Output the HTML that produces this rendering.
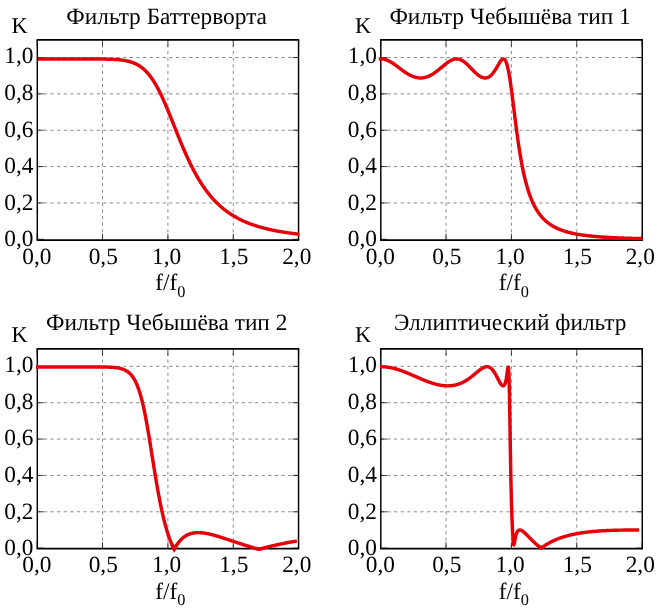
<!DOCTYPE html>
<html><head><meta charset="utf-8"><title>filters</title>
<style>
html,body{margin:0;padding:0;background:#fff;}
body{width:660px;height:611px;overflow:hidden;font-family:"Liberation Serif",serif;}
svg{display:block;will-change:transform;}
text{font-family:"Liberation Serif",serif;fill:#000;text-rendering:geometricPrecision;}
.t{font-size:23.35px;}
.ti{font-size:23.35px;}
.g{stroke:#000;stroke-width:0.73;stroke-dasharray:3.2 3.4;stroke-opacity:0.64;fill:none;}
.tk{stroke:#000;stroke-width:0.73;fill:none;}
.bh{stroke:#000;stroke-width:1.7;fill:none;}
.bv{stroke:#000;stroke-width:1.45;fill:none;}
.c{stroke:#e6000a;stroke-width:3.45;fill:none;stroke-linejoin:round;stroke-linecap:butt;}
.v{stroke-linejoin:miter;stroke-miterlimit:10;}
</style></head><body>
<svg width="660" height="611" viewBox="0 0 660 611">


<g>
<line class="g" stroke-dashoffset="-1.1" x1="102.53" y1="240.10" x2="102.53" y2="39.95"/>
<line class="g" stroke-dashoffset="-1.1" x1="167.90" y1="240.10" x2="167.90" y2="39.95"/>
<line class="g" stroke-dashoffset="-1.1" x1="233.28" y1="240.10" x2="233.28" y2="39.95"/>
<line class="g" x1="37.30" y1="202.94" x2="298.85" y2="202.94"/>
<line class="g" x1="37.30" y1="166.58" x2="298.85" y2="166.58"/>
<line class="g" x1="37.30" y1="130.22" x2="298.85" y2="130.22"/>
<line class="g" x1="37.30" y1="93.86" x2="298.85" y2="93.86"/>
<line class="g" x1="37.30" y1="57.50" x2="298.85" y2="57.50"/>
<line class="tk" x1="37.15" y1="240.10" x2="37.15" y2="233.60"/>
<line class="tk" x1="37.15" y1="39.95" x2="37.15" y2="46.45"/>
<line class="tk" x1="102.53" y1="240.10" x2="102.53" y2="233.60"/>
<line class="tk" x1="102.53" y1="39.95" x2="102.53" y2="46.45"/>
<line class="tk" x1="167.90" y1="240.10" x2="167.90" y2="233.60"/>
<line class="tk" x1="167.90" y1="39.95" x2="167.90" y2="46.45"/>
<line class="tk" x1="233.28" y1="240.10" x2="233.28" y2="233.60"/>
<line class="tk" x1="233.28" y1="39.95" x2="233.28" y2="46.45"/>
<line class="tk" x1="298.65" y1="240.10" x2="298.65" y2="233.60"/>
<line class="tk" x1="298.65" y1="39.95" x2="298.65" y2="46.45"/>
<line class="tk" x1="37.30" y1="239.30" x2="43.80" y2="239.30"/>
<line class="tk" x1="298.85" y1="239.30" x2="292.35" y2="239.30"/>
<line class="tk" x1="37.30" y1="202.94" x2="43.80" y2="202.94"/>
<line class="tk" x1="298.85" y1="202.94" x2="292.35" y2="202.94"/>
<line class="tk" x1="37.30" y1="166.58" x2="43.80" y2="166.58"/>
<line class="tk" x1="298.85" y1="166.58" x2="292.35" y2="166.58"/>
<line class="tk" x1="37.30" y1="130.22" x2="43.80" y2="130.22"/>
<line class="tk" x1="298.85" y1="130.22" x2="292.35" y2="130.22"/>
<line class="tk" x1="37.30" y1="93.86" x2="43.80" y2="93.86"/>
<line class="tk" x1="298.85" y1="93.86" x2="292.35" y2="93.86"/>
<line class="tk" x1="37.30" y1="57.50" x2="43.80" y2="57.50"/>
<line class="tk" x1="298.85" y1="57.50" x2="292.35" y2="57.50"/>
<path class="bh" d="M36.58 39.95H299.27M36.58 240.10H299.27"/>
<path class="bv" d="M37.30 39.95V240.10M298.55 39.95V240.10"/>
<polyline class="c" points="38.00,59.00 38.44,59.00 38.87,59.00 39.31,59.00 39.75,59.00 40.18,59.00 40.62,59.00 41.05,59.00 41.49,59.00 41.93,59.00 42.36,59.00 42.80,59.00 43.24,59.00 43.67,59.00 44.11,59.00 44.54,59.00 44.98,59.00 45.42,59.00 45.85,59.00 46.29,59.00 46.73,59.00 47.16,59.00 47.60,59.00 48.04,59.00 48.47,59.00 48.91,59.00 49.34,59.00 49.78,59.00 50.22,59.00 50.65,59.00 51.09,59.00 51.53,59.00 51.96,59.00 52.40,59.00 52.83,59.00 53.27,59.00 53.71,59.00 54.14,59.00 54.58,59.00 55.02,59.00 55.45,59.00 55.89,59.00 56.32,59.00 56.76,59.00 57.20,59.00 57.63,59.00 58.07,59.00 58.51,59.00 58.94,59.00 59.38,59.00 59.82,59.00 60.25,59.00 60.69,59.00 61.12,59.00 61.56,59.00 62.00,59.00 62.43,59.00 62.87,59.00 63.31,59.00 63.74,59.00 64.18,59.00 64.61,59.00 65.05,59.00 65.49,59.00 65.92,59.00 66.36,59.00 66.80,59.00 67.23,59.00 67.67,59.00 68.11,59.00 68.54,59.00 68.98,59.00 69.41,59.00 69.85,59.00 70.29,59.00 70.72,59.00 71.16,59.00 71.60,59.00 72.03,59.00 72.47,59.00 72.90,59.00 73.34,59.00 73.78,59.00 74.21,59.00 74.65,59.00 75.09,59.00 75.52,59.00 75.96,59.00 76.40,59.00 76.83,59.00 77.27,59.00 77.70,59.00 78.14,59.00 78.58,59.00 79.01,59.00 79.45,59.00 79.89,59.00 80.32,59.00 80.76,59.00 81.19,59.00 81.63,59.00 82.07,59.00 82.50,59.00 82.94,59.00 83.38,59.00 83.81,59.00 84.25,59.00 84.69,59.00 85.12,59.00 85.56,59.00 85.99,59.00 86.43,59.00 86.87,59.01 87.30,59.01 87.74,59.01 88.18,59.01 88.61,59.01 89.05,59.01 89.48,59.01 89.92,59.01 90.36,59.01 90.79,59.01 91.23,59.01 91.67,59.01 92.10,59.01 92.54,59.02 92.97,59.02 93.41,59.02 93.85,59.02 94.28,59.02 94.72,59.02 95.16,59.03 95.59,59.03 96.03,59.03 96.47,59.03 96.90,59.03 97.34,59.04 97.77,59.04 98.21,59.04 98.65,59.04 99.08,59.05 99.52,59.05 99.96,59.06 100.39,59.06 100.83,59.06 101.26,59.07 101.70,59.07 102.14,59.08 102.57,59.08 103.01,59.09 103.45,59.10 103.88,59.10 104.32,59.11 104.76,59.12 105.19,59.12 105.63,59.13 106.06,59.14 106.50,59.15 106.94,59.16 107.37,59.17 107.81,59.18 108.25,59.19 108.68,59.20 109.12,59.22 109.55,59.23 109.99,59.24 110.43,59.26 110.86,59.28 111.30,59.29 111.74,59.31 112.17,59.33 112.61,59.35 113.05,59.37 113.48,59.39 113.92,59.41 114.35,59.44 114.79,59.46 115.23,59.49 115.66,59.52 116.10,59.55 116.54,59.58 116.97,59.61 117.41,59.64 117.84,59.68 118.28,59.72 118.72,59.76 119.15,59.80 119.59,59.84 120.03,59.89 120.46,59.93 120.90,59.98 121.34,60.04 121.77,60.09 122.21,60.15 122.64,60.21 123.08,60.27 123.52,60.34 123.95,60.40 124.39,60.48 124.83,60.55 125.26,60.63 125.70,60.71 126.13,60.79 126.57,60.88 127.01,60.98 127.44,61.07 127.88,61.17 128.32,61.28 128.75,61.39 129.19,61.50 129.63,61.62 130.06,61.74 130.50,61.87 130.93,62.01 131.37,62.15 131.81,62.29 132.24,62.44 132.68,62.60 133.12,62.76 133.55,62.93 133.99,63.11 134.42,63.29 134.86,63.48 135.30,63.67 135.73,63.88 136.17,64.09 136.61,64.31 137.04,64.54 137.48,64.77 137.91,65.01 138.35,65.27 138.79,65.53 139.22,65.80 139.66,66.08 140.10,66.37 140.53,66.67 140.97,66.97 141.41,67.29 141.84,67.62 142.28,67.96 142.71,68.31 143.15,68.67 143.59,69.05 144.02,69.43 144.46,69.83 144.90,70.24 145.33,70.66 145.77,71.09 146.20,71.53 146.64,71.99 147.08,72.46 147.51,72.94 147.95,73.44 148.39,73.95 148.82,74.47 149.26,75.01 149.70,75.56 150.13,76.13 150.57,76.70 151.00,77.30 151.44,77.90 151.88,78.52 152.31,79.16 152.75,79.81 153.19,80.47 153.62,81.15 154.06,81.84 154.49,82.54 154.93,83.26 155.37,84.00 155.80,84.74 156.24,85.51 156.68,86.28 157.11,87.07 157.55,87.88 157.99,88.69 158.42,89.52 158.86,90.37 159.29,91.22 159.73,92.09 160.17,92.97 160.60,93.87 161.04,94.77 161.48,95.69 161.91,96.62 162.35,97.56 162.78,98.51 163.22,99.47 163.66,100.45 164.09,101.43 164.53,102.42 164.97,103.42 165.40,104.43 165.84,105.45 166.28,106.47 166.71,107.50 167.15,108.54 167.58,109.59 168.02,110.64 168.46,111.70 168.89,112.77 169.33,113.83 169.77,114.91 170.20,115.99 170.64,117.07 171.07,118.15 171.51,119.24 171.95,120.33 172.38,121.42 172.82,122.51 173.26,123.61 173.69,124.70 174.13,125.80 174.57,126.89 175.00,127.99 175.44,129.08 175.87,130.18 176.31,131.27 176.75,132.36 177.18,133.44 177.62,134.53 178.06,135.61 178.49,136.68 178.93,137.76 179.36,138.83 179.80,139.89 180.24,140.95 180.67,142.01 181.11,143.06 181.55,144.11 181.98,145.15 182.42,146.18 182.85,147.21 183.29,148.23 183.73,149.24 184.16,150.25 184.60,151.25 185.04,152.25 185.47,153.23 185.91,154.21 186.35,155.18 186.78,156.15 187.22,157.11 187.65,158.05 188.09,158.99 188.53,159.93 188.96,160.85 189.40,161.77 189.84,162.67 190.27,163.57 190.71,164.46 191.14,165.34 191.58,166.22 192.02,167.08 192.45,167.94 192.89,168.79 193.33,169.62 193.76,170.45 194.20,171.28 194.64,172.09 195.07,172.89 195.51,173.69 195.94,174.47 196.38,175.25 196.82,176.02 197.25,176.78 197.69,177.53 198.13,178.28 198.56,179.01 199.00,179.74 199.43,180.45 199.87,181.16 200.31,181.86 200.74,182.56 201.18,183.24 201.62,183.92 202.05,184.59 202.49,185.25 202.93,185.90 203.36,186.54 203.80,187.18 204.23,187.81 204.67,188.43 205.11,189.04 205.54,189.64 205.98,190.24 206.42,190.83 206.85,191.41 207.29,191.99 207.72,192.56 208.16,193.12 208.60,193.67 209.03,194.22 209.47,194.76 209.91,195.29 210.34,195.82 210.78,196.34 211.22,196.85 211.65,197.36 212.09,197.86 212.52,198.35 212.96,198.84 213.40,199.32 213.83,199.79 214.27,200.26 214.71,200.72 215.14,201.18 215.58,201.63 216.01,202.07 216.45,202.51 216.89,202.94 217.32,203.37 217.76,203.79 218.20,204.21 218.63,204.62 219.07,205.03 219.51,205.43 219.94,205.82 220.38,206.21 220.81,206.60 221.25,206.98 221.69,207.35 222.12,207.72 222.56,208.09 223.00,208.45 223.43,208.80 223.87,209.16 224.30,209.50 224.74,209.84 225.18,210.18 225.61,210.52 226.05,210.85 226.49,211.17 226.92,211.49 227.36,211.81 227.79,212.12 228.23,212.43 228.67,212.73 229.10,213.04 229.54,213.33 229.98,213.63 230.41,213.91 230.85,214.20 231.29,214.48 231.72,214.76 232.16,215.04 232.59,215.31 233.03,215.57 233.47,215.84 233.90,216.10 234.34,216.36 234.78,216.61 235.21,216.86 235.65,217.11 236.08,217.36 236.52,217.60 236.96,217.84 237.39,218.07 237.83,218.31 238.27,218.54 238.70,218.76 239.14,218.99 239.58,219.21 240.01,219.43 240.45,219.65 240.88,219.86 241.32,220.07 241.76,220.28 242.19,220.48 242.63,220.69 243.07,220.89 243.50,221.09 243.94,221.28 244.37,221.47 244.81,221.67 245.25,221.85 245.68,222.04 246.12,222.22 246.56,222.41 246.99,222.59 247.43,222.76 247.87,222.94 248.30,223.11 248.74,223.28 249.17,223.45 249.61,223.62 250.05,223.78 250.48,223.95 250.92,224.11 251.36,224.27 251.79,224.42 252.23,224.58 252.66,224.73 253.10,224.88 253.54,225.03 253.97,225.18 254.41,225.33 254.85,225.47 255.28,225.62 255.72,225.76 256.16,225.90 256.59,226.03 257.03,226.17 257.46,226.31 257.90,226.44 258.34,226.57 258.77,226.70 259.21,226.83 259.65,226.96 260.08,227.08 260.52,227.21 260.95,227.33 261.39,227.45 261.83,227.57 262.26,227.69 262.70,227.81 263.14,227.92 263.57,228.04 264.01,228.15 264.45,228.26 264.88,228.37 265.32,228.48 265.75,228.59 266.19,228.70 266.63,228.80 267.06,228.91 267.50,229.01 267.94,229.11 268.37,229.21 268.81,229.31 269.24,229.41 269.68,229.51 270.12,229.61 270.55,229.70 270.99,229.80 271.43,229.89 271.86,229.98 272.30,230.07 272.73,230.17 273.17,230.25 273.61,230.34 274.04,230.43 274.48,230.52 274.92,230.60 275.35,230.69 275.79,230.77 276.23,230.85 276.66,230.94 277.10,231.02 277.53,231.10 277.97,231.18 278.41,231.25 278.84,231.33 279.28,231.41 279.72,231.49 280.15,231.56 280.59,231.63 281.02,231.71 281.46,231.78 281.90,231.85 282.33,231.92 282.77,231.99 283.21,232.06 283.64,232.13 284.08,232.20 284.52,232.27 284.95,232.34 285.39,232.40 285.82,232.47 286.26,232.53 286.70,232.60 287.13,232.66 287.57,232.72 288.01,232.79 288.44,232.85 288.88,232.91 289.31,232.97 289.75,233.03 290.19,233.09 290.62,233.14 291.06,233.20 291.50,233.26 291.93,233.32 292.37,233.37 292.81,233.43 293.24,233.48 293.68,233.54 294.11,233.59 294.55,233.64 294.99,233.70 295.42,233.75 295.86,233.80 296.30,233.85 296.73,233.90 297.17,233.95 297.60,234.00 298.04,234.05 298.48,234.10 298.91,234.15 299.35,234.20"/>
<text class="t" x="22.25" y="264.00" transform="rotate(0.02 22.25 264.00)">0,0</text>
<text class="t" x="88.65" y="264.00" transform="rotate(0.02 88.65 264.00)">0,5</text>
<text class="t" x="152.00" y="264.00" transform="rotate(0.02 152.00 264.00)">1,0</text>
<text class="t" x="219.20" y="264.00" transform="rotate(0.02 219.20 264.00)">1,5</text>
<text class="t" x="282.15" y="264.00" transform="rotate(0.02 282.15 264.00)">2,0</text>
<text class="t" x="33.50" y="246.30" text-anchor="end" transform="rotate(0.02 33.50 246.30)">0,0</text>
<text class="t" x="33.50" y="209.74" text-anchor="end" transform="rotate(0.02 33.50 209.74)">0,2</text>
<text class="t" x="33.50" y="173.18" text-anchor="end" transform="rotate(0.02 33.50 173.18)">0,4</text>
<text class="t" x="33.50" y="136.62" text-anchor="end" transform="rotate(0.02 33.50 136.62)">0,6</text>
<text class="t" x="33.50" y="100.06" text-anchor="end" transform="rotate(0.02 33.50 100.06)">0,8</text>
<text class="t" x="33.50" y="63.50" text-anchor="end" transform="rotate(0.02 33.50 63.50)">1,0</text>
<text class="t" x="155.30" y="289.80" transform="rotate(0.02 155.30 289.80)">f/f<tspan font-size="16.3" dy="6.75">0</tspan></text>
<text class="t" style="font-size:22.4px" x="11.40" y="33.35" transform="rotate(0.02 11.30 33.25)">K</text>
<text class="ti" x="66.30" y="23.80" transform="rotate(0.02 66.30 23.80)">Фильтр Баттерворта</text>
</g>
<g>
<line class="g" stroke-dashoffset="-1.1" x1="446.03" y1="240.10" x2="446.03" y2="39.95"/>
<line class="g" stroke-dashoffset="-1.1" x1="511.40" y1="240.10" x2="511.40" y2="39.95"/>
<line class="g" stroke-dashoffset="-1.1" x1="576.78" y1="240.10" x2="576.78" y2="39.95"/>
<line class="g" x1="380.80" y1="202.94" x2="642.35" y2="202.94"/>
<line class="g" x1="380.80" y1="166.58" x2="642.35" y2="166.58"/>
<line class="g" x1="380.80" y1="130.22" x2="642.35" y2="130.22"/>
<line class="g" x1="380.80" y1="93.86" x2="642.35" y2="93.86"/>
<line class="g" x1="380.80" y1="57.50" x2="642.35" y2="57.50"/>
<line class="tk" x1="380.65" y1="240.10" x2="380.65" y2="233.60"/>
<line class="tk" x1="380.65" y1="39.95" x2="380.65" y2="46.45"/>
<line class="tk" x1="446.03" y1="240.10" x2="446.03" y2="233.60"/>
<line class="tk" x1="446.03" y1="39.95" x2="446.03" y2="46.45"/>
<line class="tk" x1="511.40" y1="240.10" x2="511.40" y2="233.60"/>
<line class="tk" x1="511.40" y1="39.95" x2="511.40" y2="46.45"/>
<line class="tk" x1="576.78" y1="240.10" x2="576.78" y2="233.60"/>
<line class="tk" x1="576.78" y1="39.95" x2="576.78" y2="46.45"/>
<line class="tk" x1="642.15" y1="240.10" x2="642.15" y2="233.60"/>
<line class="tk" x1="642.15" y1="39.95" x2="642.15" y2="46.45"/>
<line class="tk" x1="380.80" y1="239.30" x2="387.30" y2="239.30"/>
<line class="tk" x1="642.35" y1="239.30" x2="635.85" y2="239.30"/>
<line class="tk" x1="380.80" y1="202.94" x2="387.30" y2="202.94"/>
<line class="tk" x1="642.35" y1="202.94" x2="635.85" y2="202.94"/>
<line class="tk" x1="380.80" y1="166.58" x2="387.30" y2="166.58"/>
<line class="tk" x1="642.35" y1="166.58" x2="635.85" y2="166.58"/>
<line class="tk" x1="380.80" y1="130.22" x2="387.30" y2="130.22"/>
<line class="tk" x1="642.35" y1="130.22" x2="635.85" y2="130.22"/>
<line class="tk" x1="380.80" y1="93.86" x2="387.30" y2="93.86"/>
<line class="tk" x1="642.35" y1="93.86" x2="635.85" y2="93.86"/>
<line class="tk" x1="380.80" y1="57.50" x2="387.30" y2="57.50"/>
<line class="tk" x1="642.35" y1="57.50" x2="635.85" y2="57.50"/>
<path class="bh" d="M380.08 39.95H642.97M380.08 240.10H642.97"/>
<path class="bv" d="M380.80 39.95V240.10M642.25 39.95V240.10"/>
<polyline class="c" points="378.80,59.04 379.24,58.98 379.68,58.94 380.12,58.92 380.56,58.90 381.00,58.90 381.44,58.91 381.88,58.94 382.32,58.98 382.76,59.03 383.20,59.10 383.64,59.17 384.08,59.26 384.52,59.37 384.96,59.48 385.41,59.61 385.85,59.75 386.29,59.90 386.73,60.06 387.17,60.23 387.61,60.42 388.05,60.61 388.49,60.82 388.93,61.03 389.37,61.26 389.81,61.49 390.25,61.74 390.69,61.99 391.13,62.24 391.57,62.51 392.01,62.79 392.45,63.07 392.89,63.35 393.33,63.65 393.77,63.94 394.21,64.25 394.65,64.56 395.09,64.87 395.53,65.18 395.97,65.50 396.41,65.83 396.85,66.15 397.29,66.48 397.73,66.81 398.17,67.14 398.61,67.47 399.05,67.80 399.50,68.13 399.94,68.46 400.38,68.79 400.82,69.12 401.26,69.44 401.70,69.77 402.14,70.09 402.58,70.41 403.02,70.73 403.46,71.04 403.90,71.35 404.34,71.66 404.78,71.96 405.22,72.25 405.66,72.55 406.10,72.83 406.54,73.11 406.98,73.39 407.42,73.66 407.86,73.92 408.30,74.18 408.74,74.43 409.18,74.67 409.62,74.91 410.06,75.14 410.50,75.36 410.94,75.57 411.38,75.78 411.82,75.97 412.26,76.16 412.70,76.34 413.15,76.51 413.59,76.67 414.03,76.83 414.47,76.97 414.91,77.11 415.35,77.23 415.79,77.35 416.23,77.45 416.67,77.55 417.11,77.64 417.55,77.71 417.99,77.78 418.43,77.84 418.87,77.88 419.31,77.92 419.75,77.95 420.19,77.96 420.63,77.97 421.07,77.96 421.51,77.95 421.95,77.92 422.39,77.88 422.83,77.84 423.27,77.78 423.71,77.71 424.15,77.63 424.59,77.54 425.03,77.44 425.47,77.33 425.91,77.21 426.35,77.08 426.79,76.94 427.24,76.79 427.68,76.63 428.12,76.46 428.56,76.28 429.00,76.09 429.44,75.89 429.88,75.68 430.32,75.46 430.76,75.23 431.20,74.99 431.64,74.74 432.08,74.48 432.52,74.22 432.96,73.95 433.40,73.66 433.84,73.38 434.28,73.08 434.72,72.77 435.16,72.46 435.60,72.14 436.04,71.82 436.48,71.49 436.92,71.15 437.36,70.81 437.80,70.46 438.24,70.11 438.68,69.76 439.12,69.40 439.56,69.03 440.00,68.67 440.44,68.30 440.89,67.93 441.33,67.56 441.77,67.19 442.21,66.82 442.65,66.45 443.09,66.08 443.53,65.71 443.97,65.34 444.41,64.98 444.85,64.62 445.29,64.27 445.73,63.92 446.17,63.58 446.61,63.24 447.05,62.91 447.49,62.59 447.93,62.28 448.37,61.97 448.81,61.68 449.25,61.40 449.69,61.13 450.13,60.87 450.57,60.63 451.01,60.39 451.45,60.18 451.89,59.98 452.33,59.79 452.77,59.62 453.21,59.47 453.65,59.33 454.09,59.21 454.53,59.11 454.98,59.03 455.42,58.97 455.86,58.93 456.30,58.90 456.74,58.90 457.18,58.92 457.62,58.96 458.06,59.01 458.50,59.09 458.94,59.19 459.38,59.31 459.82,59.45 460.26,59.61 460.70,59.79 461.14,59.99 461.58,60.21 462.02,60.44 462.46,60.70 462.90,60.97 463.34,61.26 463.78,61.56 464.22,61.89 464.66,62.22 465.10,62.57 465.54,62.94 465.98,63.32 466.42,63.71 466.86,64.11 467.30,64.52 467.74,64.94 468.18,65.37 468.62,65.80 469.07,66.24 469.51,66.69 469.95,67.14 470.39,67.59 470.83,68.05 471.27,68.51 471.71,68.97 472.15,69.42 472.59,69.88 473.03,70.33 473.47,70.78 473.91,71.22 474.35,71.66 474.79,72.09 475.23,72.51 475.67,72.93 476.11,73.33 476.55,73.72 476.99,74.10 477.43,74.47 477.87,74.83 478.31,75.17 478.75,75.49 479.19,75.80 479.63,76.09 480.07,76.37 480.51,76.62 480.95,76.86 481.39,77.07 481.83,77.26 482.27,77.44 482.72,77.59 483.16,77.71 483.60,77.81 484.04,77.89 484.48,77.94 484.92,77.96 485.36,77.96 485.80,77.93 486.24,77.87 486.68,77.79 487.12,77.67 487.56,77.52 488.00,77.35 488.44,77.14 488.88,76.90 489.32,76.63 489.76,76.32 490.20,75.99 490.64,75.62 491.08,75.22 491.52,74.79 491.96,74.32 492.40,73.82 492.84,73.29 493.28,72.74 493.72,72.15 494.16,71.53 494.60,70.89 495.04,70.22 495.48,69.52 495.92,68.81 496.36,68.08 496.81,67.34 497.25,66.58 497.69,65.82 498.13,65.06 498.57,64.30 499.01,63.56 499.45,62.84 499.89,62.15 500.33,61.49 500.77,60.88 501.21,60.33 501.65,59.85 502.09,59.46 502.53,59.16 502.97,58.97 503.41,58.90 503.85,58.97 504.29,59.19 504.73,59.58 505.17,60.15 505.61,60.90 506.05,61.86 506.49,63.02 506.93,64.39 507.37,65.98 507.81,67.79 508.25,69.80 508.69,72.03 509.13,74.45 509.57,77.07 510.01,79.85 510.46,82.80 510.90,85.89 511.34,89.10 511.78,92.41 512.22,95.81 512.66,99.27 513.10,102.78 513.54,106.32 513.98,109.87 514.42,113.41 514.86,116.93 515.30,120.43 515.74,123.88 516.18,127.28 516.62,130.62 517.06,133.89 517.50,137.08 517.94,140.20 518.38,143.24 518.82,146.20 519.26,149.07 519.70,151.85 520.14,154.55 520.58,157.16 521.02,159.69 521.46,162.13 521.90,164.49 522.34,166.77 522.78,168.97 523.22,171.10 523.66,173.14 524.10,175.12 524.55,177.03 524.99,178.86 525.43,180.64 525.87,182.35 526.31,183.99 526.75,185.58 527.19,187.12 527.63,188.60 528.07,190.02 528.51,191.40 528.95,192.73 529.39,194.01 529.83,195.24 530.27,196.44 530.71,197.59 531.15,198.71 531.59,199.78 532.03,200.82 532.47,201.82 532.91,202.80 533.35,203.73 533.79,204.64 534.23,205.52 534.67,206.37 535.11,207.19 535.55,207.99 535.99,208.76 536.43,209.50 536.87,210.22 537.31,210.92 537.75,211.60 538.19,212.26 538.64,212.90 539.08,213.51 539.52,214.11 539.96,214.70 540.40,215.26 540.84,215.81 541.28,216.34 541.72,216.86 542.16,217.36 542.60,217.84 543.04,218.32 543.48,218.78 543.92,219.22 544.36,219.66 544.80,220.08 545.24,220.49 545.68,220.89 546.12,221.28 546.56,221.66 547.00,222.02 547.44,222.38 547.88,222.73 548.32,223.07 548.76,223.40 549.20,223.72 549.64,224.04 550.08,224.34 550.52,224.64 550.96,224.93 551.40,225.21 551.84,225.49 552.29,225.76 552.73,226.02 553.17,226.28 553.61,226.53 554.05,226.77 554.49,227.01 554.93,227.24 555.37,227.47 555.81,227.69 556.25,227.90 556.69,228.12 557.13,228.32 557.57,228.52 558.01,228.72 558.45,228.91 558.89,229.10 559.33,229.28 559.77,229.46 560.21,229.64 560.65,229.81 561.09,229.98 561.53,230.14 561.97,230.30 562.41,230.46 562.85,230.61 563.29,230.76 563.73,230.91 564.17,231.05 564.61,231.19 565.05,231.33 565.49,231.47 565.93,231.60 566.38,231.73 566.82,231.85 567.26,231.98 567.70,232.10 568.14,232.22 568.58,232.33 569.02,232.45 569.46,232.56 569.90,232.67 570.34,232.78 570.78,232.88 571.22,232.99 571.66,233.09 572.10,233.19 572.54,233.28 572.98,233.38 573.42,233.47 573.86,233.56 574.30,233.65 574.74,233.74 575.18,233.83 575.62,233.91 576.06,234.00 576.50,234.08 576.94,234.16 577.38,234.24 577.82,234.32 578.26,234.39 578.70,234.47 579.14,234.54 579.58,234.61 580.03,234.68 580.47,234.75 580.91,234.82 581.35,234.88 581.79,234.95 582.23,235.01 582.67,235.08 583.11,235.14 583.55,235.20 583.99,235.26 584.43,235.32 584.87,235.38 585.31,235.43 585.75,235.49 586.19,235.55 586.63,235.60 587.07,235.65 587.51,235.70 587.95,235.76 588.39,235.81 588.83,235.86 589.27,235.90 589.71,235.95 590.15,236.00 590.59,236.05 591.03,236.09 591.47,236.14 591.91,236.18 592.35,236.22 592.79,236.27 593.23,236.31 593.67,236.35 594.12,236.39 594.56,236.43 595.00,236.47 595.44,236.51 595.88,236.55 596.32,236.58 596.76,236.62 597.20,236.66 597.64,236.69 598.08,236.73 598.52,236.76 598.96,236.80 599.40,236.83 599.84,236.86 600.28,236.90 600.72,236.93 601.16,236.96 601.60,236.99 602.04,237.02 602.48,237.05 602.92,237.08 603.36,237.11 603.80,237.14 604.24,237.17 604.68,237.19 605.12,237.22 605.56,237.25 606.00,237.28 606.44,237.30 606.88,237.33 607.32,237.35 607.76,237.38 608.21,237.40 608.65,237.43 609.09,237.45 609.53,237.48 609.97,237.50 610.41,237.52 610.85,237.55 611.29,237.57 611.73,237.59 612.17,237.61 612.61,237.63 613.05,237.65 613.49,237.68 613.93,237.70 614.37,237.72 614.81,237.74 615.25,237.76 615.69,237.78 616.13,237.79 616.57,237.81 617.01,237.83 617.45,237.85 617.89,237.87 618.33,237.89 618.77,237.90 619.21,237.92 619.65,237.94 620.09,237.96 620.53,237.97 620.97,237.99 621.41,238.01 621.86,238.02 622.30,238.04 622.74,238.05 623.18,238.07 623.62,238.08 624.06,238.10 624.50,238.11 624.94,238.13 625.38,238.14 625.82,238.16 626.26,238.17 626.70,238.19 627.14,238.20 627.58,238.21 628.02,238.23 628.46,238.24 628.90,238.25 629.34,238.26 629.78,238.28 630.22,238.29 630.66,238.30 631.10,238.31 631.54,238.33 631.98,238.34 632.42,238.35 632.86,238.36 633.30,238.37 633.74,238.39 634.18,238.40 634.62,238.41 635.06,238.42 635.50,238.43 635.95,238.44 636.39,238.45 636.83,238.46 637.27,238.47 637.71,238.48 638.15,238.49 638.59,238.50 639.03,238.51 639.47,238.52 639.91,238.53 640.35,238.54 640.79,238.55 641.23,238.56 641.67,238.57 642.11,238.58 642.55,238.59"/>
<text class="t" x="365.75" y="264.00" transform="rotate(0.02 365.75 264.00)">0,0</text>
<text class="t" x="432.15" y="264.00" transform="rotate(0.02 432.15 264.00)">0,5</text>
<text class="t" x="495.50" y="264.00" transform="rotate(0.02 495.50 264.00)">1,0</text>
<text class="t" x="562.70" y="264.00" transform="rotate(0.02 562.70 264.00)">1,5</text>
<text class="t" x="625.65" y="264.00" transform="rotate(0.02 625.65 264.00)">2,0</text>
<text class="t" x="377.00" y="246.30" text-anchor="end" transform="rotate(0.02 377.00 246.30)">0,0</text>
<text class="t" x="377.00" y="209.74" text-anchor="end" transform="rotate(0.02 377.00 209.74)">0,2</text>
<text class="t" x="377.00" y="173.18" text-anchor="end" transform="rotate(0.02 377.00 173.18)">0,4</text>
<text class="t" x="377.00" y="136.62" text-anchor="end" transform="rotate(0.02 377.00 136.62)">0,6</text>
<text class="t" x="377.00" y="100.06" text-anchor="end" transform="rotate(0.02 377.00 100.06)">0,8</text>
<text class="t" x="377.00" y="63.50" text-anchor="end" transform="rotate(0.02 377.00 63.50)">1,0</text>
<text class="t" x="498.80" y="289.80" transform="rotate(0.02 498.80 289.80)">f/f<tspan font-size="16.3" dy="6.75">0</tspan></text>
<text class="t" style="font-size:22.4px" x="354.90" y="33.35" transform="rotate(0.02 354.80 33.25)">K</text>
<text class="ti" x="389.40" y="23.80" transform="rotate(0.02 389.40 23.80)">Фильтр Чебышёва тип 1</text>
</g>
<g>
<line class="g" stroke-dashoffset="-1.1" x1="102.53" y1="548.60" x2="102.53" y2="348.80"/>
<line class="g" stroke-dashoffset="-1.1" x1="167.90" y1="548.60" x2="167.90" y2="348.80"/>
<line class="g" stroke-dashoffset="-1.1" x1="233.28" y1="548.60" x2="233.28" y2="348.80"/>
<line class="g" x1="37.30" y1="511.79" x2="298.85" y2="511.79"/>
<line class="g" x1="37.30" y1="475.43" x2="298.85" y2="475.43"/>
<line class="g" x1="37.30" y1="439.07" x2="298.85" y2="439.07"/>
<line class="g" x1="37.30" y1="402.71" x2="298.85" y2="402.71"/>
<line class="g" x1="37.30" y1="366.35" x2="298.85" y2="366.35"/>
<line class="tk" x1="37.15" y1="548.60" x2="37.15" y2="542.10"/>
<line class="tk" x1="37.15" y1="348.80" x2="37.15" y2="355.30"/>
<line class="tk" x1="102.53" y1="548.60" x2="102.53" y2="542.10"/>
<line class="tk" x1="102.53" y1="348.80" x2="102.53" y2="355.30"/>
<line class="tk" x1="167.90" y1="548.60" x2="167.90" y2="542.10"/>
<line class="tk" x1="167.90" y1="348.80" x2="167.90" y2="355.30"/>
<line class="tk" x1="233.28" y1="548.60" x2="233.28" y2="542.10"/>
<line class="tk" x1="233.28" y1="348.80" x2="233.28" y2="355.30"/>
<line class="tk" x1="298.65" y1="548.60" x2="298.65" y2="542.10"/>
<line class="tk" x1="298.65" y1="348.80" x2="298.65" y2="355.30"/>
<line class="tk" x1="37.30" y1="548.15" x2="43.80" y2="548.15"/>
<line class="tk" x1="298.85" y1="548.15" x2="292.35" y2="548.15"/>
<line class="tk" x1="37.30" y1="511.79" x2="43.80" y2="511.79"/>
<line class="tk" x1="298.85" y1="511.79" x2="292.35" y2="511.79"/>
<line class="tk" x1="37.30" y1="475.43" x2="43.80" y2="475.43"/>
<line class="tk" x1="298.85" y1="475.43" x2="292.35" y2="475.43"/>
<line class="tk" x1="37.30" y1="439.07" x2="43.80" y2="439.07"/>
<line class="tk" x1="298.85" y1="439.07" x2="292.35" y2="439.07"/>
<line class="tk" x1="37.30" y1="402.71" x2="43.80" y2="402.71"/>
<line class="tk" x1="298.85" y1="402.71" x2="292.35" y2="402.71"/>
<line class="tk" x1="37.30" y1="366.35" x2="43.80" y2="366.35"/>
<line class="tk" x1="298.85" y1="366.35" x2="292.35" y2="366.35"/>
<path class="bh" d="M36.58 348.80H299.27M36.58 548.60H299.27"/>
<path class="bv" d="M37.30 348.80V548.60M298.55 348.80V548.60"/>
<polyline class="c" points="36.05,366.90 36.49,366.90 36.92,366.90 37.36,366.90 37.79,366.90 38.23,366.90 38.66,366.90 39.10,366.90 39.53,366.90 39.97,366.90 40.40,366.90 40.84,366.90 41.27,366.90 41.71,366.90 42.15,366.90 42.58,366.90 43.02,366.90 43.45,366.90 43.89,366.90 44.32,366.90 44.76,366.90 45.19,366.90 45.63,366.90 46.06,366.90 46.50,366.90 46.94,366.90 47.37,366.90 47.81,366.90 48.24,366.90 48.68,366.90 49.11,366.90 49.55,366.90 49.98,366.90 50.42,366.90 50.85,366.90 51.29,366.90 51.72,366.90 52.16,366.90 52.60,366.90 53.03,366.90 53.47,366.90 53.90,366.90 54.34,366.90 54.77,366.90 55.21,366.90 55.64,366.90 56.08,366.90 56.51,366.90 56.95,366.90 57.38,366.90 57.82,366.90 58.26,366.90 58.69,366.90 59.13,366.90 59.56,366.90 60.00,366.90 60.43,366.90 60.87,366.90 61.30,366.90 61.74,366.90 62.17,366.90 62.61,366.90 63.04,366.90 63.48,366.90 63.92,366.90 64.35,366.90 64.79,366.90 65.22,366.90 65.66,366.90 66.09,366.90 66.53,366.90 66.96,366.90 67.40,366.90 67.83,366.90 68.27,366.90 68.70,366.90 69.14,366.90 69.58,366.90 70.01,366.90 70.45,366.90 70.88,366.90 71.32,366.90 71.75,366.90 72.19,366.90 72.62,366.90 73.06,366.90 73.49,366.90 73.93,366.90 74.36,366.90 74.80,366.90 75.24,366.90 75.67,366.90 76.11,366.90 76.54,366.90 76.98,366.90 77.41,366.90 77.85,366.90 78.28,366.90 78.72,366.90 79.15,366.90 79.59,366.90 80.02,366.90 80.46,366.90 80.90,366.90 81.33,366.90 81.77,366.90 82.20,366.90 82.64,366.90 83.07,366.90 83.51,366.90 83.94,366.90 84.38,366.90 84.81,366.90 85.25,366.90 85.68,366.90 86.12,366.90 86.56,366.90 86.99,366.90 87.43,366.90 87.86,366.90 88.30,366.91 88.73,366.91 89.17,366.91 89.60,366.91 90.04,366.91 90.47,366.91 90.91,366.91 91.35,366.91 91.78,366.91 92.22,366.91 92.65,366.91 93.09,366.91 93.52,366.92 93.96,366.92 94.39,366.92 94.83,366.92 95.26,366.92 95.70,366.92 96.13,366.93 96.57,366.93 97.01,366.93 97.44,366.93 97.88,366.94 98.31,366.94 98.75,366.94 99.18,366.95 99.62,366.95 100.05,366.95 100.49,366.96 100.92,366.96 101.36,366.97 101.79,366.97 102.23,366.98 102.67,366.99 103.10,366.99 103.54,367.00 103.97,367.01 104.41,367.02 104.84,367.03 105.28,367.04 105.71,367.05 106.15,367.06 106.58,367.07 107.02,367.08 107.45,367.10 107.89,367.11 108.33,367.13 108.76,367.15 109.20,367.17 109.63,367.19 110.07,367.21 110.50,367.23 110.94,367.25 111.37,367.28 111.81,367.31 112.24,367.34 112.68,367.37 113.11,367.40 113.55,367.44 113.99,367.48 114.42,367.52 114.86,367.57 115.29,367.62 115.73,367.67 116.16,367.72 116.60,367.78 117.03,367.84 117.47,367.91 117.90,367.98 118.34,368.06 118.77,368.14 119.21,368.22 119.65,368.32 120.08,368.42 120.52,368.52 120.95,368.63 121.39,368.75 121.82,368.88 122.26,369.02 122.69,369.16 123.13,369.32 123.56,369.48 124.00,369.66 124.43,369.85 124.87,370.04 125.31,370.26 125.74,370.48 126.18,370.72 126.61,370.98 127.05,371.25 127.48,371.54 127.92,371.85 128.35,372.18 128.79,372.53 129.22,372.90 129.66,373.29 130.10,373.71 130.53,374.15 130.97,374.62 131.40,375.12 131.84,375.65 132.27,376.21 132.71,376.80 133.14,377.43 133.58,378.09 134.01,378.80 134.45,379.54 134.88,380.32 135.32,381.15 135.76,382.03 136.19,382.95 136.63,383.92 137.06,384.94 137.50,386.02 137.93,387.15 138.37,388.33 138.80,389.58 139.24,390.88 139.67,392.24 140.11,393.67 140.54,395.16 140.98,396.71 141.42,398.33 141.85,400.02 142.29,401.77 142.72,403.58 143.16,405.47 143.59,407.41 144.03,409.43 144.46,411.50 144.90,413.64 145.33,415.84 145.77,418.10 146.20,420.42 146.64,422.78 147.08,425.20 147.51,427.67 147.95,430.19 148.38,432.74 148.82,435.33 149.25,437.95 149.69,440.61 150.12,443.29 150.56,445.98 150.99,448.70 151.43,451.43 151.86,454.16 152.30,456.90 152.74,459.63 153.17,462.36 153.61,465.08 154.04,467.78 154.48,470.47 154.91,473.14 155.35,475.78 155.78,478.40 156.22,480.98 156.65,483.53 157.09,486.04 157.52,488.52 157.96,490.96 158.40,493.35 158.83,495.70 159.27,498.01 159.70,500.27 160.14,502.48 160.57,504.65 161.01,506.76 161.44,508.83 161.88,510.85 162.31,512.81 162.75,514.73 163.18,516.60 163.62,518.42 164.06,520.19 164.49,521.91 164.93,523.59 165.36,525.21 165.80,526.79 166.23,528.33 166.67,529.81 167.10,531.26 167.54,532.66 167.97,534.01 168.41,535.33 168.84,536.60 169.28,537.83 169.72,539.02 170.15,540.17 170.59,541.29 171.02,542.37 171.46,543.41 171.89,544.42 172.33,545.39 172.76,546.33 173.20,547.23 173.63,548.11 174.07,548.95 174.23,549.25 174.51,548.74 174.94,547.95 175.38,547.20 175.81,546.47 176.25,545.77 176.68,545.10 177.12,544.45 177.55,543.82 177.99,543.22 178.42,542.64 178.86,542.09 179.29,541.56 179.73,541.05 180.17,540.56 180.60,540.09 181.04,539.64 181.47,539.21 181.91,538.79 182.34,538.40 182.78,538.02 183.21,537.66 183.65,537.32 184.08,536.99 184.52,536.68 184.95,536.38 185.39,536.10 185.83,535.83 186.26,535.57 186.70,535.33 187.13,535.10 187.57,534.88 188.00,534.68 188.44,534.49 188.87,534.31 189.31,534.14 189.74,533.98 190.18,533.83 190.61,533.69 191.05,533.56 191.49,533.44 191.92,533.33 192.36,533.23 192.79,533.14 193.23,533.05 193.66,532.98 194.10,532.91 194.53,532.85 194.97,532.80 195.40,532.75 195.84,532.71 196.27,532.68 196.71,532.66 197.15,532.64 197.58,532.63 198.02,532.62 198.45,532.62 198.89,532.63 199.32,532.64 199.76,532.65 200.19,532.67 200.63,532.70 201.06,532.73 201.50,532.77 201.93,532.81 202.37,532.85 202.81,532.90 203.24,532.95 203.68,533.01 204.11,533.07 204.55,533.13 204.98,533.20 205.42,533.27 205.85,533.34 206.29,533.42 206.72,533.50 207.16,533.59 207.59,533.67 208.03,533.76 208.47,533.86 208.90,533.95 209.34,534.05 209.77,534.15 210.21,534.25 210.64,534.35 211.08,534.46 211.51,534.57 211.95,534.68 212.38,534.79 212.82,534.91 213.26,535.02 213.69,535.14 214.13,535.26 214.56,535.38 215.00,535.50 215.43,535.63 215.87,535.75 216.30,535.88 216.74,536.01 217.17,536.14 217.61,536.27 218.04,536.40 218.48,536.53 218.92,536.67 219.35,536.80 219.79,536.94 220.22,537.07 220.66,537.21 221.09,537.35 221.53,537.48 221.96,537.62 222.40,537.76 222.83,537.90 223.27,538.04 223.70,538.19 224.14,538.33 224.58,538.47 225.01,538.61 225.45,538.76 225.88,538.90 226.32,539.04 226.75,539.19 227.19,539.33 227.62,539.48 228.06,539.62 228.49,539.77 228.93,539.91 229.36,540.06 229.80,540.20 230.24,540.35 230.67,540.49 231.11,540.64 231.54,540.78 231.98,540.93 232.41,541.07 232.85,541.22 233.28,541.36 233.72,541.51 234.15,541.65 234.59,541.80 235.02,541.94 235.46,542.09 235.90,542.23 236.33,542.37 236.77,542.52 237.20,542.66 237.64,542.80 238.07,542.95 238.51,543.09 238.94,543.23 239.38,543.37 239.81,543.51 240.25,543.66 240.68,543.80 241.12,543.94 241.56,544.08 241.99,544.22 242.43,544.36 242.86,544.49 243.30,544.63 243.73,544.77 244.17,544.91 244.60,545.05 245.04,545.18 245.47,545.32 245.91,545.45 246.34,545.59 246.78,545.72 247.22,545.86 247.65,545.99 248.09,546.13 248.52,546.26 248.96,546.39 249.39,546.52 249.83,546.65 250.26,546.78 250.70,546.91 251.13,547.04 251.57,547.17 252.00,547.30 252.44,547.43 252.88,547.56 253.31,547.68 253.75,547.81 254.18,547.94 254.62,548.06 255.05,548.19 255.49,548.31 255.92,548.43 256.36,548.56 256.79,548.68 257.23,548.80 257.67,548.92 258.10,549.04 258.54,549.16 258.86,549.25 258.97,549.22 259.41,549.10 259.84,548.98 260.28,548.86 260.71,548.75 261.15,548.63 261.58,548.51 262.02,548.40 262.45,548.28 262.89,548.17 263.33,548.06 263.76,547.94 264.20,547.83 264.63,547.72 265.07,547.61 265.50,547.50 265.94,547.39 266.37,547.28 266.81,547.17 267.24,547.06 267.68,546.96 268.11,546.85 268.55,546.74 268.99,546.64 269.42,546.53 269.86,546.43 270.29,546.32 270.73,546.22 271.16,546.12 271.60,546.02 272.03,545.92 272.47,545.81 272.90,545.71 273.34,545.61 273.77,545.52 274.21,545.42 274.65,545.32 275.08,545.22 275.52,545.13 275.95,545.03 276.39,544.93 276.82,544.84 277.26,544.74 277.69,544.65 278.13,544.56 278.56,544.46 279.00,544.37 279.43,544.28 279.87,544.19 280.31,544.10 280.74,544.01 281.18,543.92 281.61,543.83 282.05,543.74 282.48,543.65 282.92,543.57 283.35,543.48 283.79,543.39 284.22,543.31 284.66,543.22 285.09,543.14 285.53,543.06 285.97,542.97 286.40,542.89 286.84,542.81 287.27,542.73 287.71,542.64 288.14,542.56 288.58,542.48 289.01,542.40 289.45,542.32 289.88,542.25 290.32,542.17 290.75,542.09 291.19,542.01 291.63,541.94 292.06,541.86 292.50,541.78 292.93,541.71 293.37,541.63 293.80,541.56 294.24,541.49 294.67,541.41 295.11,541.34 295.54,541.27 295.98,541.20 296.41,541.12 296.85,541.05"/>
<polyline class="c v" points="171.73,544.04 174.23,549.25 176.73,545.03"/>
<polyline class="c v" points="256.36,548.56 258.86,549.25 261.36,548.58"/>
<text class="t" x="22.25" y="572.25" transform="rotate(0.02 22.25 572.25)">0,0</text>
<text class="t" x="88.65" y="572.25" transform="rotate(0.02 88.65 572.25)">0,5</text>
<text class="t" x="152.00" y="572.25" transform="rotate(0.02 152.00 572.25)">1,0</text>
<text class="t" x="219.20" y="572.25" transform="rotate(0.02 219.20 572.25)">1,5</text>
<text class="t" x="282.15" y="572.25" transform="rotate(0.02 282.15 572.25)">2,0</text>
<text class="t" x="33.50" y="555.15" text-anchor="end" transform="rotate(0.02 33.50 555.15)">0,0</text>
<text class="t" x="33.50" y="518.59" text-anchor="end" transform="rotate(0.02 33.50 518.59)">0,2</text>
<text class="t" x="33.50" y="482.03" text-anchor="end" transform="rotate(0.02 33.50 482.03)">0,4</text>
<text class="t" x="33.50" y="445.47" text-anchor="end" transform="rotate(0.02 33.50 445.47)">0,6</text>
<text class="t" x="33.50" y="408.91" text-anchor="end" transform="rotate(0.02 33.50 408.91)">0,8</text>
<text class="t" x="33.50" y="372.35" text-anchor="end" transform="rotate(0.02 33.50 372.35)">1,0</text>
<text class="t" x="155.30" y="598.65" transform="rotate(0.02 155.30 598.65)">f/f<tspan font-size="16.3" dy="6.75">0</tspan></text>
<text class="t" style="font-size:22.4px" x="11.40" y="342.20" transform="rotate(0.02 11.30 342.10)">K</text>
<text class="ti" x="46.00" y="330.25" transform="rotate(0.02 46.00 330.25)">Фильтр Чебышёва тип 2</text>
</g>
<g>
<line class="g" stroke-dashoffset="-1.1" x1="446.03" y1="548.60" x2="446.03" y2="348.80"/>
<line class="g" stroke-dashoffset="-1.1" x1="511.40" y1="548.60" x2="511.40" y2="348.80"/>
<line class="g" stroke-dashoffset="-1.1" x1="576.78" y1="548.60" x2="576.78" y2="348.80"/>
<line class="g" x1="380.80" y1="511.79" x2="642.35" y2="511.79"/>
<line class="g" x1="380.80" y1="475.43" x2="642.35" y2="475.43"/>
<line class="g" x1="380.80" y1="439.07" x2="642.35" y2="439.07"/>
<line class="g" x1="380.80" y1="402.71" x2="642.35" y2="402.71"/>
<line class="g" x1="380.80" y1="366.35" x2="642.35" y2="366.35"/>
<line class="tk" x1="380.65" y1="548.60" x2="380.65" y2="542.10"/>
<line class="tk" x1="380.65" y1="348.80" x2="380.65" y2="355.30"/>
<line class="tk" x1="446.03" y1="548.60" x2="446.03" y2="542.10"/>
<line class="tk" x1="446.03" y1="348.80" x2="446.03" y2="355.30"/>
<line class="tk" x1="511.40" y1="548.60" x2="511.40" y2="542.10"/>
<line class="tk" x1="511.40" y1="348.80" x2="511.40" y2="355.30"/>
<line class="tk" x1="576.78" y1="548.60" x2="576.78" y2="542.10"/>
<line class="tk" x1="576.78" y1="348.80" x2="576.78" y2="355.30"/>
<line class="tk" x1="642.15" y1="548.60" x2="642.15" y2="542.10"/>
<line class="tk" x1="642.15" y1="348.80" x2="642.15" y2="355.30"/>
<line class="tk" x1="380.80" y1="548.15" x2="387.30" y2="548.15"/>
<line class="tk" x1="642.35" y1="548.15" x2="635.85" y2="548.15"/>
<line class="tk" x1="380.80" y1="511.79" x2="387.30" y2="511.79"/>
<line class="tk" x1="642.35" y1="511.79" x2="635.85" y2="511.79"/>
<line class="tk" x1="380.80" y1="475.43" x2="387.30" y2="475.43"/>
<line class="tk" x1="642.35" y1="475.43" x2="635.85" y2="475.43"/>
<line class="tk" x1="380.80" y1="439.07" x2="387.30" y2="439.07"/>
<line class="tk" x1="642.35" y1="439.07" x2="635.85" y2="439.07"/>
<line class="tk" x1="380.80" y1="402.71" x2="387.30" y2="402.71"/>
<line class="tk" x1="642.35" y1="402.71" x2="635.85" y2="402.71"/>
<line class="tk" x1="380.80" y1="366.35" x2="387.30" y2="366.35"/>
<line class="tk" x1="642.35" y1="366.35" x2="635.85" y2="366.35"/>
<path class="bh" d="M380.08 348.80H642.97M380.08 548.60H642.97"/>
<path class="bv" d="M380.80 348.80V548.60M642.25 348.80V548.60"/>
<polyline class="c" points="380.00,366.71 380.43,366.70 380.87,366.70 381.30,366.70 381.73,366.71 382.16,366.72 382.59,366.73 383.03,366.75 383.46,366.77 383.89,366.80 384.32,366.83 384.76,366.86 385.19,366.90 385.62,366.94 386.05,366.98 386.49,367.03 386.92,367.08 387.35,367.14 387.78,367.20 388.22,367.26 388.65,367.33 389.08,367.39 389.51,367.47 389.95,367.55 390.38,367.63 390.81,367.71 391.24,367.80 391.68,367.89 392.11,367.98 392.54,368.08 392.97,368.18 393.41,368.28 393.84,368.39 394.27,368.50 394.70,368.61 395.14,368.73 395.57,368.85 396.00,368.97 396.43,369.09 396.87,369.22 397.30,369.35 397.73,369.48 398.16,369.62 398.60,369.76 399.03,369.90 399.46,370.04 399.89,370.19 400.33,370.33 400.76,370.48 401.19,370.64 401.62,370.79 402.06,370.95 402.49,371.11 402.92,371.27 403.35,371.43 403.79,371.60 404.22,371.76 404.65,371.93 405.08,372.10 405.52,372.27 405.95,372.45 406.38,372.62 406.81,372.80 407.25,372.97 407.68,373.15 408.11,373.33 408.54,373.51 408.98,373.69 409.41,373.88 409.84,374.06 410.27,374.25 410.71,374.43 411.14,374.62 411.57,374.80 412.00,374.99 412.44,375.18 412.87,375.37 413.30,375.56 413.73,375.75 414.17,375.93 414.60,376.12 415.03,376.31 415.46,376.50 415.90,376.69 416.33,376.88 416.76,377.07 417.19,377.26 417.63,377.45 418.06,377.64 418.49,377.82 418.92,378.01 419.36,378.20 419.79,378.38 420.22,378.57 420.65,378.75 421.08,378.94 421.52,379.12 421.95,379.30 422.38,379.48 422.81,379.66 423.25,379.84 423.68,380.02 424.11,380.19 424.54,380.37 424.98,380.54 425.41,380.71 425.84,380.88 426.27,381.05 426.71,381.21 427.14,381.38 427.57,381.54 428.00,381.70 428.44,381.86 428.87,382.02 429.30,382.17 429.73,382.32 430.17,382.47 430.60,382.62 431.03,382.76 431.46,382.91 431.90,383.05 432.33,383.18 432.76,383.32 433.19,383.45 433.63,383.58 434.06,383.71 434.49,383.83 434.92,383.95 435.36,384.07 435.79,384.18 436.22,384.29 436.65,384.40 437.09,384.51 437.52,384.61 437.95,384.71 438.38,384.80 438.82,384.89 439.25,384.98 439.68,385.06 440.11,385.14 440.55,385.22 440.98,385.29 441.41,385.36 441.84,385.42 442.28,385.48 442.71,385.54 443.14,385.59 443.57,385.63 444.01,385.68 444.44,385.72 444.87,385.75 445.30,385.78 445.74,385.80 446.17,385.82 446.60,385.84 447.03,385.85 447.47,385.86 447.90,385.86 448.33,385.85 448.76,385.84 449.20,385.83 449.63,385.81 450.06,385.78 450.49,385.75 450.93,385.71 451.36,385.67 451.79,385.62 452.22,385.57 452.66,385.51 453.09,385.45 453.52,385.38 453.95,385.30 454.39,385.22 454.82,385.13 455.25,385.04 455.68,384.94 456.12,384.83 456.55,384.72 456.98,384.60 457.41,384.47 457.85,384.34 458.28,384.20 458.71,384.05 459.14,383.90 459.57,383.74 460.01,383.58 460.44,383.40 460.87,383.22 461.30,383.04 461.74,382.85 462.17,382.65 462.60,382.44 463.03,382.23 463.47,382.01 463.90,381.78 464.33,381.55 464.76,381.31 465.20,381.06 465.63,380.80 466.06,380.54 466.49,380.27 466.93,380.00 467.36,379.72 467.79,379.43 468.22,379.14 468.66,378.84 469.09,378.53 469.52,378.22 469.95,377.91 470.39,377.58 470.82,377.26 471.25,376.92 471.68,376.59 472.12,376.25 472.55,375.90 472.98,375.55 473.41,375.20 473.85,374.84 474.28,374.48 474.71,374.12 475.14,373.76 475.58,373.40 476.01,373.04 476.44,372.67 476.87,372.31 477.31,371.95 477.74,371.60 478.17,371.24 478.60,370.90 479.04,370.55 479.47,370.22 479.90,369.89 480.33,369.57 480.77,369.25 481.20,368.95 481.63,368.67 482.06,368.39 482.50,368.13 482.93,367.89 483.36,367.67 483.79,367.46 484.23,367.28 484.66,367.11 485.09,366.98 485.52,366.87 485.96,366.78 486.39,366.73 486.82,366.70 487.25,366.71 487.69,366.75 488.12,366.83 488.55,366.94 488.98,367.09 489.42,367.28 489.85,367.51 490.28,367.78 490.71,368.09 491.15,368.45 491.58,368.84 492.01,369.28 492.44,369.76 492.88,370.29 493.31,370.85 493.74,371.45 494.17,372.09 494.61,372.77 495.04,373.48 495.47,374.22 495.90,374.99 496.34,375.78 496.77,376.59 497.20,377.41 497.63,378.24 498.06,379.08 498.50,379.91 498.93,380.73 499.36,381.53 499.79,382.30 500.23,383.03 500.66,383.70 501.09,384.32 501.52,384.85 501.96,385.29 502.39,385.62 502.82,385.81 503.25,385.85 503.69,385.71 504.12,385.35 504.55,384.76 504.98,383.88 505.42,382.66 505.85,381.00 506.28,378.83 506.71,376.14 507.15,372.98 507.58,369.68 508.01,367.14 508.44,367.26 508.88,373.10 509.31,387.68 509.74,410.81 510.17,438.00 510.61,463.95 511.04,485.81 511.47,503.10 511.90,516.45 512.34,526.71 512.77,534.64 513.20,540.98 513.83,545.07 514.50,542.61 514.93,539.85 515.36,537.61 515.80,535.78 516.23,534.31 516.66,533.14 517.09,532.20 517.53,531.48 517.96,530.93 518.39,530.53 518.82,530.25 519.26,530.09 519.69,530.01 520.12,530.02 520.55,530.09 520.99,530.22 521.42,530.41 521.85,530.63 522.28,530.90 522.72,531.19 523.15,531.52 523.58,531.86 524.01,532.23 524.45,532.62 524.88,533.01 525.31,533.42 525.74,533.84 526.18,534.27 526.61,534.70 527.04,535.14 527.47,535.58 527.91,536.03 528.34,536.47 528.77,536.92 529.20,537.36 529.64,537.81 530.07,538.25 530.50,538.69 530.93,539.13 531.37,539.57 531.80,540.00 532.23,540.43 532.66,540.85 533.10,541.27 533.53,541.69 533.96,542.10 534.39,542.51 534.82,542.91 535.26,543.30 535.69,543.69 536.12,544.08 536.55,544.46 536.99,544.84 537.42,545.21 537.85,545.57 538.28,545.94 538.72,546.29 539.15,546.64 539.58,546.98 540.01,547.32 540.45,547.66 540.88,547.99 541.10,548.15 541.31,547.99 541.74,547.67 542.18,547.36 542.61,547.05 543.04,546.74 543.47,546.45 543.91,546.15 544.34,545.86 544.77,545.58 545.20,545.30 545.64,545.02 546.07,544.75 546.50,544.48 546.93,544.22 547.37,543.97 547.80,543.71 548.23,543.46 548.66,543.22 549.10,542.98 549.53,542.74 549.96,542.51 550.39,542.28 550.83,542.05 551.26,541.83 551.69,541.61 552.12,541.40 552.56,541.19 552.99,540.98 553.42,540.78 553.85,540.58 554.29,540.38 554.72,540.19 555.15,540.00 555.58,539.82 556.02,539.63 556.45,539.45 556.88,539.27 557.31,539.10 557.75,538.93 558.18,538.76 558.61,538.59 559.04,538.43 559.48,538.27 559.91,538.11 560.34,537.96 560.77,537.81 561.21,537.66 561.64,537.51 562.07,537.37 562.50,537.23 562.94,537.09 563.37,536.95 563.80,536.81 564.23,536.68 564.67,536.55 565.10,536.42 565.53,536.30 565.96,536.17 566.40,536.05 566.83,535.93 567.26,535.82 567.69,535.70 568.13,535.59 568.56,535.48 568.99,535.37 569.42,535.26 569.86,535.15 570.29,535.05 570.72,534.95 571.15,534.85 571.59,534.75 572.02,534.65 572.45,534.55 572.88,534.46 573.31,534.37 573.75,534.28 574.18,534.19 574.61,534.10 575.04,534.02 575.48,533.93 575.91,533.85 576.34,533.77 576.77,533.69 577.21,533.61 577.64,533.53 578.07,533.45 578.50,533.38 578.94,533.31 579.37,533.23 579.80,533.16 580.23,533.09 580.67,533.02 581.10,532.96 581.53,532.89 581.96,532.83 582.40,532.76 582.83,532.70 583.26,532.64 583.69,532.58 584.13,532.52 584.56,532.46 584.99,532.40 585.42,532.35 585.86,532.29 586.29,532.24 586.72,532.19 587.15,532.13 587.59,532.08 588.02,532.03 588.45,531.98 588.88,531.93 589.32,531.89 589.75,531.84 590.18,531.79 590.61,531.75 591.05,531.70 591.48,531.66 591.91,531.62 592.34,531.58 592.78,531.54 593.21,531.50 593.64,531.46 594.07,531.42 594.51,531.38 594.94,531.34 595.37,531.31 595.80,531.27 596.24,531.24 596.67,531.20 597.10,531.17 597.53,531.14 597.97,531.10 598.40,531.07 598.83,531.04 599.26,531.01 599.70,530.98 600.13,530.95 600.56,530.92 600.99,530.89 601.43,530.87 601.86,530.84 602.29,530.81 602.72,530.79 603.16,530.76 603.59,530.74 604.02,530.71 604.45,530.69 604.89,530.67 605.32,530.65 605.75,530.62 606.18,530.60 606.62,530.58 607.05,530.56 607.48,530.54 607.91,530.52 608.35,530.50 608.78,530.48 609.21,530.47 609.64,530.45 610.08,530.43 610.51,530.41 610.94,530.40 611.37,530.38 611.80,530.37 612.24,530.35 612.67,530.34 613.10,530.32 613.53,530.31 613.97,530.29 614.40,530.28 614.83,530.27 615.26,530.26 615.70,530.24 616.13,530.23 616.56,530.22 616.99,530.21 617.43,530.20 617.86,530.19 618.29,530.18 618.72,530.17 619.16,530.16 619.59,530.15 620.02,530.14 620.45,530.13 620.89,530.13 621.32,530.12 621.75,530.11 622.18,530.10 622.62,530.10 623.05,530.09 623.48,530.08 623.91,530.08 624.35,530.07 624.78,530.07 625.21,530.06 625.64,530.06 626.08,530.05 626.51,530.05 626.94,530.04 627.37,530.04 627.81,530.03 628.24,530.03 628.67,530.03 629.10,530.02 629.54,530.02 629.97,530.02 630.40,530.02 630.83,530.01 631.27,530.01 631.70,530.01 632.13,530.01 632.56,530.01 633.00,530.01 633.43,530.01 633.86,530.01 634.29,530.01 634.73,530.01 635.16,530.01 635.59,530.01 636.02,530.01 636.46,530.01 636.89,530.01 637.32,530.01 637.75,530.01 638.19,530.01 638.62,530.01 639.05,530.01"/>
<polyline class="c v" points="538.60,546.19 541.10,548.15 543.60,546.36"/>
<text class="t" x="365.75" y="572.25" transform="rotate(0.02 365.75 572.25)">0,0</text>
<text class="t" x="432.15" y="572.25" transform="rotate(0.02 432.15 572.25)">0,5</text>
<text class="t" x="495.50" y="572.25" transform="rotate(0.02 495.50 572.25)">1,0</text>
<text class="t" x="562.70" y="572.25" transform="rotate(0.02 562.70 572.25)">1,5</text>
<text class="t" x="625.65" y="572.25" transform="rotate(0.02 625.65 572.25)">2,0</text>
<text class="t" x="377.00" y="555.15" text-anchor="end" transform="rotate(0.02 377.00 555.15)">0,0</text>
<text class="t" x="377.00" y="518.59" text-anchor="end" transform="rotate(0.02 377.00 518.59)">0,2</text>
<text class="t" x="377.00" y="482.03" text-anchor="end" transform="rotate(0.02 377.00 482.03)">0,4</text>
<text class="t" x="377.00" y="445.47" text-anchor="end" transform="rotate(0.02 377.00 445.47)">0,6</text>
<text class="t" x="377.00" y="408.91" text-anchor="end" transform="rotate(0.02 377.00 408.91)">0,8</text>
<text class="t" x="377.00" y="372.35" text-anchor="end" transform="rotate(0.02 377.00 372.35)">1,0</text>
<text class="t" x="498.80" y="598.65" transform="rotate(0.02 498.80 598.65)">f/f<tspan font-size="16.3" dy="6.75">0</tspan></text>
<text class="t" style="font-size:22.4px" x="354.90" y="342.20" transform="rotate(0.02 354.80 342.10)">K</text>
<text class="ti" x="394.00" y="330.25" transform="rotate(0.02 394.00 330.25)">Эллиптический фильтр</text>
</g>
</svg></body></html>
